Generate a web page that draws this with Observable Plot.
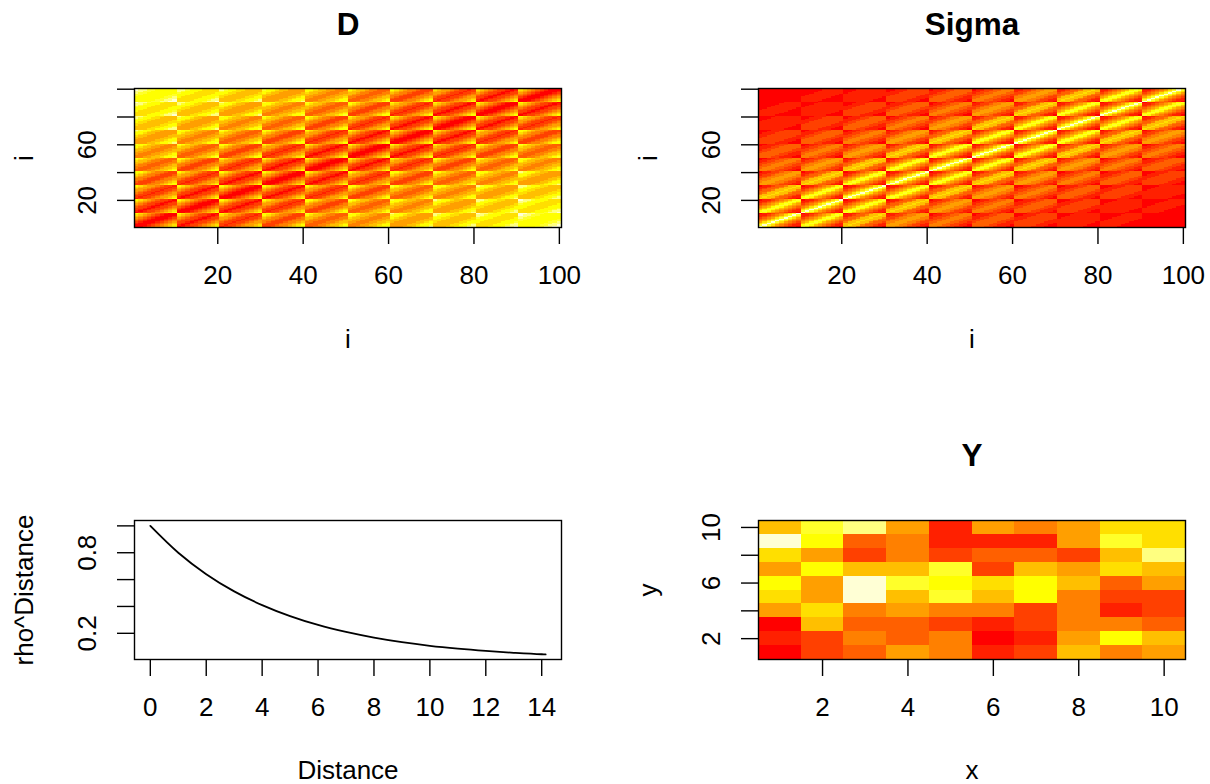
<!DOCTYPE html>
<html><head><meta charset="utf-8">
<style>
html,body{margin:0;padding:0;background:#fff}
#page{position:relative;width:1210px;height:784px;overflow:hidden}
svg{overflow:visible;background:transparent}
</style>
<script src="https://cdn.jsdelivr.net/npm/d3@7"></script>
<script src="https://cdn.jsdelivr.net/npm/@observablehq/plot@0.6"></script>
</head><body><div id="page"></div>
<script>
const heatColors = ["#FF0000","#FF2000","#FF4000","#FF6000","#FF8000","#FF9F00","#FFBF00","#FFDF00","#FFFF00","#FFFF2A","#FFFF80","#FFFFD5"];

// distance between grid sites, by column gap (row) and row gap (column)
const distanceByGap = [
 [0,1,2,3,4,5,6,7,8,9],
 [1,1.41,2.24,3.16,4.12,5.10,6.08,7.07,8.06,9.06],
 [2,2.24,2.83,3.61,4.47,5.39,6.32,7.28,8.25,9.22],
 [3,3.16,3.61,4.24,5,5.83,6.71,7.62,8.54,9.49],
 [4,4.12,4.47,5,5.66,6.40,7.21,8.06,8.94,9.85],
 [5,5.10,5.39,5.83,6.40,7.07,7.81,8.60,9.43,10.30],
 [6,6.08,6.32,6.71,7.21,7.81,8.49,9.22,10,10.82],
 [7,7.07,7.28,7.62,8.06,8.60,9.22,9.90,10.63,11.40],
 [8,8.06,8.25,8.54,8.94,9.43,10,10.63,11.31,12.04],
 [9,9.06,9.22,9.49,9.85,10.30,10.82,11.40,12.04,12.73]
];
const sigmaByGap = [
 [1,.8,.64,.512,.41,.328,.262,.21,.168,.134],
 [.8,.729,.607,.494,.399,.32,.257,.207,.166,.132],
 [.64,.607,.532,.447,.369,.3,.244,.197,.159,.128],
 [.512,.494,.447,.388,.328,.272,.224,.183,.149,.12],
 [.41,.399,.369,.328,.283,.24,.2,.166,.136,.111],
 [.328,.32,.3,.272,.24,.207,.175,.147,.122,.1],
 [.262,.257,.244,.224,.2,.175,.15,.128,.107,.089],
 [.21,.207,.197,.183,.166,.147,.128,.11,.093,.079],
 [.168,.166,.159,.149,.136,.122,.107,.093,.08,.068],
 [.134,.132,.128,.12,.111,.1,.089,.079,.068,.058]
];
const dBreaks = [1.06,2.12,3.18,4.24,5.30,6.37,7.43,8.49,9.55,10.61,11.67];
const sigmaBreaks = [.137,.215,.294,.372,.451,.529,.608,.686,.765,.843,.922];

const curveDistance = [0,1,2,3,4,5,6,7,8,9,10,11,12,13,14,14.14];
const curveRho = [1,.8,.64,.512,.41,.328,.262,.21,.168,.134,.107,.086,.069,.055,.044,.043];

// Y: rows listed from y=10 (top) to y=1 (bottom); values are colour levels 0-11
const yRows = [
 [6,9,10,5,1,5,4,5,7,7],
 [11,8,3,4,1,1,1,5,9,7],
 [7,5,2,4,2,3,3,2,6,10],
 [5,8,6,6,9,2,6,5,7,6],
 [8,5,11,9,8,7,8,6,3,5],
 [7,5,11,6,9,6,8,4,2,2],
 [5,7,4,5,4,4,2,4,1,2],
 [0,6,3,3,2,1,2,4,4,3],
 [1,2,4,3,4,0,1,5,8,6],
 [0,2,3,5,4,1,2,6,4,5]
];
const yBreaks = [1,2,3,4,5,6,7,8,9,10,11];

const iTicks = [20,40,60,80,100];
const iLabels = [20,60];
const FS = 26;

function matrixCells(table){
  const cells=[];
  for(let i=0;i<100;i++)for(let j=0;j<100;j++){
    const gx=Math.abs(i%10-j%10), gy=Math.abs(Math.floor(i/10)-Math.floor(j/10));
    cells.push({x1:i+.5,x2:i+1.5,y1:j+.5,y2:j+1.5,v:table[gx][gy]});
  }
  return cells;
}
const yCells = yRows.flatMap((row,r)=>row.map((v,c)=>({x1:c+.5,x2:c+1.5,y1:9.5-r,y2:10.5-r,v})));

function panel({left,top,marks,xDomain,yDomain,xTicks,xLabels,yTicks,yLabels,yFmt,color,title,xLabel,yLabel}){
  const W=605,H=392;
  const mL=left?134:153, mR=left?44:25;
  const mT=top?88:128, mB=top?165:125;
  const fmtY=yFmt||(d=>String(d));
  const svg=Plot.plot({
    width:W,height:H,marginLeft:mL,marginRight:mR,marginTop:mT,marginBottom:mB,
    style:{fontFamily:"'Liberation Sans',Arial,sans-serif",fontSize:FS+"px",background:"transparent",color:"#000",overflow:"visible"},
    x:{domain:xDomain,label:null},y:{domain:yDomain,label:null},
    color,
    marks:[
      ...marks,
      Plot.frame({stroke:"#000",strokeWidth:1.4}),
      Plot.axisX({ticks:xTicks,tickSize:17,tickPadding:21,fontSize:FS,label:null,strokeWidth:1.4,
        tickFormat:d=>xLabels.includes(d)?String(d):""}),
      Plot.axisY({ticks:yTicks,tickSize:17,tickPadding:22,fontSize:FS,label:null,strokeWidth:1.4,
        tickRotate:-90,textAnchor:"middle",tickFormat:d=>yLabels.includes(d)?fmtY(d):""}),
      ...(title?[Plot.text([title],{frameAnchor:"top",text:d=>d,dy:top?-64:-65,fontSize:31.5,fontWeight:"bold",lineAnchor:"middle"})]:[]),
      Plot.text([xLabel],{frameAnchor:"bottom",text:d=>d,dy:top?112:111,fontSize:FS,lineAnchor:"middle"}),
      Plot.text([yLabel],{frameAnchor:"left",text:d=>d,dx:-110,rotate:-90,fontSize:FS,lineAnchor:"middle",textAnchor:"middle"})
    ]
  });
  svg.style.left=(left?0:605)+"px";svg.style.top=(top?0:392)+"px";svg.style.position="absolute";
  document.getElementById("page").appendChild(svg);
}
function heatRect(cells){
  return [Plot.rect(cells,{x1:"x1",x2:"x2",y1:"y1",y2:"y2",fill:"v",shapeRendering:"crispEdges"})];
}
const iDomain=[.5,100.5];
panel({left:true,top:true,marks:heatRect(matrixCells(distanceByGap)),xDomain:iDomain,yDomain:iDomain,
  xTicks:iTicks,xLabels:iTicks,yTicks:iTicks,yLabels:iLabels,
  color:{type:"threshold",domain:dBreaks,range:heatColors},title:"D",xLabel:"i",yLabel:"i"});
panel({left:false,top:true,marks:heatRect(matrixCells(sigmaByGap)),xDomain:iDomain,yDomain:iDomain,
  xTicks:iTicks,xLabels:iTicks,yTicks:iTicks,yLabels:iLabels,
  color:{type:"threshold",domain:sigmaBreaks,range:heatColors},title:"Sigma",xLabel:"i",yLabel:"i"});
panel({left:true,top:false,
  marks:[Plot.line(curveDistance.map((d,i)=>({d,r:curveRho[i]})),{x:"d",y:"r",stroke:"#000",strokeWidth:1.8,curve:"monotone-x"})],
  xDomain:[-.566,14.708],yDomain:[.005,1.04],
  xTicks:[0,2,4,6,8,10,12,14],xLabels:[0,2,4,6,8,10,12,14],yTicks:[.2,.4,.6,.8,1],yLabels:[.2,.8],yFmt:d=>d.toFixed(1),
  title:"",xLabel:"Distance",yLabel:"rho^Distance"});
panel({left:false,top:false,marks:heatRect(yCells),xDomain:[.5,10.5],yDomain:[.5,10.5],
  xTicks:[2,4,6,8,10],xLabels:[2,4,6,8,10],yTicks:[2,4,6,8,10],yLabels:[2,6,10],
  color:{type:"threshold",domain:yBreaks,range:heatColors},title:"Y",xLabel:"x",yLabel:"y"});
</script></body></html>
